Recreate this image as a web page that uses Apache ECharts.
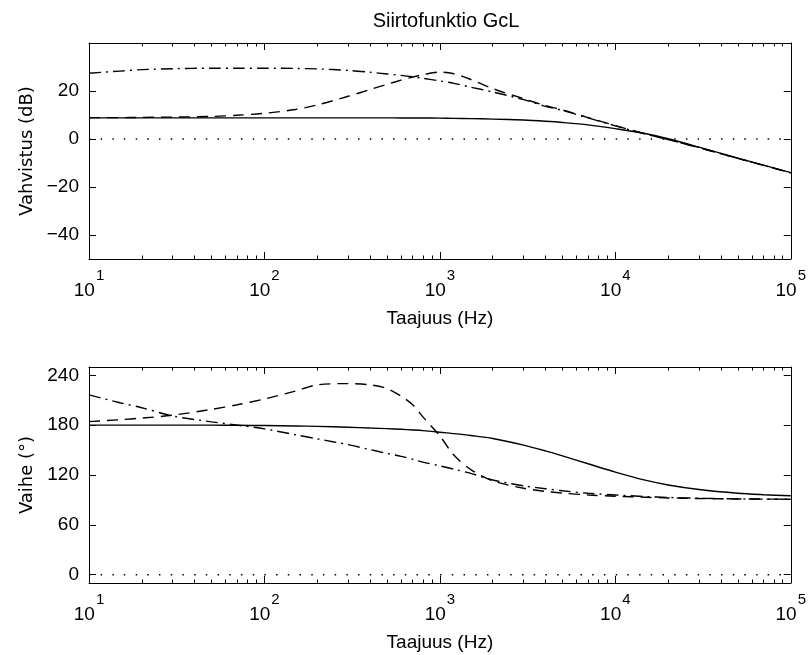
<!DOCTYPE html>
<html>
<head>
<meta charset="utf-8">
<script src="https://cdn.jsdelivr.net/npm/echarts@6/dist/echarts.min.js"></script>
<style>html,body{margin:0;padding:0;background:#fff}#c{width:809px;height:655px}</style>
</head>
<body>
<div id="c"></div>
<script>
// ---- data ----
var freq = [10, 15, 20, 30, 50, 70, 100, 150, 200, 300, 400, 500, 600, 700, 800, 1000, 1200, 1500, 2000, 3000, 4000, 5000, 7000, 10000, 15000, 20000, 30000, 50000, 70000, 100000];

var gainSolid   = [8.8, 8.8, 8.8, 8.8, 8.8, 8.8, 8.8, 8.8, 8.8, 8.8, 8.8, 8.8, 8.78, 8.75, 8.73, 8.7, 8.6, 8.5, 8.3, 7.9, 7.4, 6.9, 5.9, 4.3, 2.2, 0.1, -3.4, -8.0, -10.9, -14.0];
var gainDashed  = [8.9, 8.9, 9.0, 9.1, 9.4, 9.9, 10.7, 12.3, 14.2, 17.8, 20.6, 22.8, 24.5, 25.8, 26.8, 27.9, 27.2, 24.8, 21.0, 16.8, 13.9, 12.1, 8.9, 5.6, 2.0, -0.2, -3.6, -8.1, -11.0, -14.1];
var gainDashDot = [27.4, 28.3, 28.9, 29.3, 29.5, 29.5, 29.5, 29.4, 29.2, 28.6, 27.8, 27.1, 26.5, 25.9, 25.3, 24.2, 23.2, 21.6, 19.6, 16.4, 13.6, 11.9, 8.8, 5.5, 2.0, -0.2, -3.6, -8.1, -11.0, -14.1];

var phaseSolid   = [180, 180, 180, 180, 180, 179.8, 179.5, 179, 178.5, 177.5, 176.5, 175.8, 175, 174.2, 173.4, 171.5, 169.8, 167.5, 164, 156, 149, 143, 133.5, 123.5, 113.5, 108, 102.5, 98, 96.3, 95];
var phaseDashed  = [184.3, 186.5, 188.5, 192, 199, 204.5, 211.5, 221, 228.5, 230, 228.5, 224, 215, 204.5, 190, 167, 144, 126.5, 113, 104, 100.3, 98.2, 96, 94.5, 93.2, 92.4, 91.7, 91.2, 91, 90.8];
var phaseDashDot = [216.5, 207, 201, 191, 184, 180, 175.5, 168.5, 163.5, 156.5, 150.5, 146, 142.5, 139, 135.5, 131, 127, 122, 114, 107, 103.5, 101, 98, 96, 94, 93, 92, 91.3, 91, 90.8];

var xMajor = [10, 100, 1000, 10000, 100000];
var xMinor = [20,30,40,50,60,70,80,90, 200,300,400,500,600,700,800,900, 2000,3000,4000,5000,6000,7000,8000,9000, 20000,30000,40000,50000,60000,70000,80000,90000];
var gainTicks = [-40, -20, 0, 20];
var phaseTicks = [0, 60, 120, 180, 240];

var titleText = 'Siirtofunktio GcL';
var xName = 'Taajuus (Hz)';
var yName1 = 'Vahvistus (dB)';
var yName2 = 'Vaihe (°)';

// ---- chart ----
var SANS = "'Liberation Sans', Arial, sans-serif";
var WIDE = "'DejaVu Sans', Verdana, sans-serif";
function pairs(xs, ys) { return xs.map(function (x, i) { return [x, ys[i]]; }); }

function xAxesFor(g) {
  var base = { type: 'log', logBase: 10, min: 10, max: 100000, gridIndex: g, splitLine: { show: false }, minorTick: { show: false } };
  var line = { show: true, onZero: false, lineStyle: { color: '#000', width: 1 } };
  var noLine = { show: false, onZero: false };
  return [
    Object.assign({}, base, {
      position: 'bottom',
      axisLine: line,
      axisTick: { show: true, inside: true, length: 7, customValues: xMajor, lineStyle: { color: '#000', width: 1 } },
      axisLabel: {
        show: true, customValues: xMajor, margin: 22, color: '#000',
        formatter: function (v) { return '{b|10}{s|' + Math.round(Math.log10(v)) + '}'; },
        rich: {
          b: { fontFamily: SANS, fontSize: 19, color: '#000', lineHeight: 19, verticalAlign: 'bottom' },
          s: { fontFamily: SANS, fontSize: 15, color: '#000', lineHeight: 15, padding: [0, 0, 17, 1], verticalAlign: 'bottom' }
        }
      },
      name: xName, nameLocation: 'middle', nameGap: 50,
      nameTextStyle: { fontFamily: SANS, fontSize: 19, color: '#000' }
    }),
    Object.assign({}, base, {
      position: 'bottom',
      axisLine: noLine,
      axisTick: { show: true, inside: true, length: 3.5, customValues: xMinor, lineStyle: { color: '#000', width: 1 } },
      axisLabel: { show: false }
    }),
    Object.assign({}, base, {
      position: 'top',
      axisLine: line,
      axisTick: { show: true, inside: true, length: 7, customValues: xMajor, lineStyle: { color: '#000', width: 1 } },
      axisLabel: { show: false }
    }),
    Object.assign({}, base, {
      position: 'top',
      axisLine: noLine,
      axisTick: { show: true, inside: true, length: 3.5, customValues: xMinor, lineStyle: { color: '#000', width: 1 } },
      axisLabel: { show: false }
    })
  ];
}

function yAxesFor(g, min, max, ticks, name) {
  return [
    {
      type: 'value', gridIndex: g, min: min, max: max, position: 'left',
      splitLine: { show: false },
      axisLine: { show: true, onZero: false, lineStyle: { color: '#000', width: 1 } },
      axisTick: { show: true, inside: true, length: 7, customValues: ticks, lineStyle: { color: '#000', width: 1 } },
      axisLabel: { show: true, customValues: ticks, margin: 10, color: '#000', fontFamily: SANS, fontSize: 19,
        formatter: function (v) { return v < 0 ? '\u2212' + (-v) : String(v); } },
      name: name, nameLocation: 'middle', nameGap: 50, nameRotate: 90,
      nameTextStyle: { fontFamily: WIDE, fontSize: 18, color: '#000' }
    },
    {
      type: 'value', gridIndex: g, min: min, max: max, position: 'right',
      splitLine: { show: false },
      axisLine: { show: true, onZero: false, lineStyle: { color: '#000', width: 1 } },
      axisTick: { show: true, inside: true, length: 7, customValues: ticks, lineStyle: { color: '#000', width: 1 } },
      axisLabel: { show: false }
    }
  ];
}

function curve(data, xi, yi, type, width) {
  return {
    type: 'line', xAxisIndex: xi, yAxisIndex: yi, data: data, showSymbol: false, symbol: 'none',
    smooth: 0.3, animation: false, silent: true,
    lineStyle: { color: '#000', width: width || 1.4, type: type, cap: 'butt' }
  };
}

var DASH = [11, 7];
var DASHDOT = [12, 5, 2, 5];
var DOT = [1.5, 10.2];

var chart = echarts.init(document.getElementById('c'), null, { renderer: 'canvas' });
chart.setOption({
  backgroundColor: '#fff',
  animation: false,
  title: { text: titleText, left: 441, top: 6, textAlign: 'center',
    textStyle: { fontFamily: SANS, fontSize: 20, fontWeight: 'normal', color: '#000' } },
  grid: [
    { left: 89, top: 43, width: 705, height: 216, containLabel: false },
    { left: 89, top: 367, width: 705, height: 216, containLabel: false }
  ],
  xAxis: xAxesFor(0).concat(xAxesFor(1)),
  yAxis: yAxesFor(0, -50, 40, gainTicks, yName1).concat(yAxesFor(1, -10, 250, phaseTicks, yName2)),
  series: [
    curve([[10, 0], [100000, 0]], 0, 0, DOT, 1.5),
    curve(pairs(freq, gainSolid), 0, 0, 'solid'),
    curve(pairs(freq, gainDashed), 0, 0, DASH),
    curve(pairs(freq, gainDashDot), 0, 0, DASHDOT),
    curve([[10, 0], [100000, 0]], 4, 2, DOT, 1.5),
    curve(pairs(freq, phaseSolid), 4, 2, 'solid'),
    curve(pairs(freq, phaseDashed), 4, 2, DASH),
    curve(pairs(freq, phaseDashDot), 4, 2, DASHDOT)
  ]
});
</script>
</body>
</html>
